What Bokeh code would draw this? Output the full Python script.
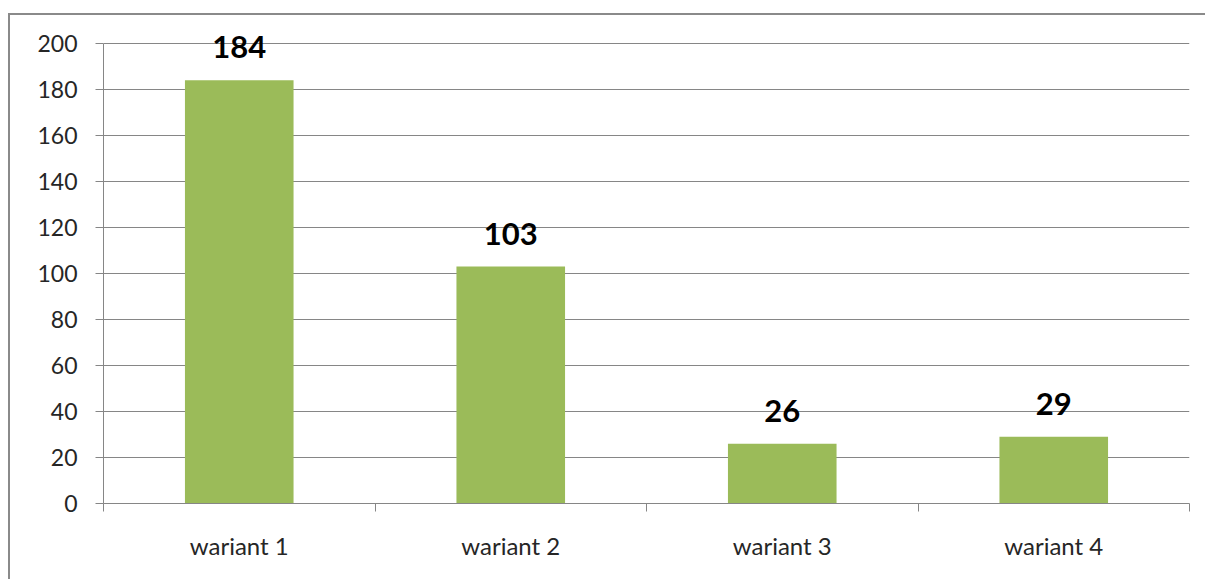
from bokeh.plotting import figure
from bokeh.models import ColumnDataSource, Range1d, FixedTicker, LabelSet
from bokeh.core.properties import value
from bokeh.embed import file_html
from bokeh.resources import INLINE

categories = ["wariant 1", "wariant 2", "wariant 3", "wariant 4"]
values = [184, 103, 26, 29]
y_ticks = [0, 20, 40, 60, 80, 100, 120, 140, 160, 180, 200]

xs = [i + 0.5 for i in range(len(categories))]
src = ColumnDataSource(dict(x=xs, top=values, label=[str(v) for v in values]))

GRID = "#868686"
FONT = "Lato"

# frame extends 28px above the 200 gridline so the top value label is not clipped
FRAME_H = 488
Y_MAX = 200 * FRAME_H / 460

p = figure(output_backend="svg", toolbar_location=None,
           x_range=Range1d(0, len(categories)), y_range=Range1d(0, Y_MAX),
           frame_width=1086, frame_height=FRAME_H,
           min_border_left=93, min_border_top=0, min_border_right=16, min_border_bottom=76,
           background_fill_color="white", border_fill_color="white")
p.styles = {"border-top": "2px solid #8a8a8a", "border-left": "2px solid #8a8a8a",
            "margin-top": "13px", "margin-left": "8px"}
p.outline_line_color = None

p.vbar(x="x", top="top", width=0.4, source=src, fill_color="#9BBB59",
       line_color=None)

labels = LabelSet(x="x", y="top", text="label", source=src,
                  text_align="center", text_baseline="alphabetic", y_offset=22,
                  text_font=value(FONT), text_font_style="bold", text_font_size="31px",
                  text_color="#000000", level="overlay")
p.add_layout(labels)

# y axis
p.yaxis.ticker = FixedTicker(ticks=y_ticks, minor_ticks=[])
p.yaxis.bounds = (0, 200)
p.yaxis.axis_line_color = GRID
p.yaxis.major_tick_line_color = GRID
p.yaxis.major_tick_out = 8
p.yaxis.major_tick_in = 0
p.yaxis.minor_tick_line_color = None
p.yaxis.major_label_standoff = 18
p.yaxis.major_label_text_font = FONT
p.yaxis.major_label_text_font_size = "23px"
p.yaxis.major_label_text_color = "#262626"

# x axis
p.xaxis.ticker = FixedTicker(ticks=xs, minor_ticks=list(range(len(categories) + 1)))
p.xaxis.major_label_overrides = {x: c for x, c in zip(xs, categories)}
p.xaxis.axis_line_color = GRID
p.xaxis.major_tick_line_color = None
p.xaxis.major_tick_out = 0
p.xaxis.major_tick_in = 0
p.xaxis.minor_tick_line_color = GRID
p.xaxis.minor_tick_out = 8
p.xaxis.minor_tick_in = 0
p.xaxis.major_label_standoff = 19
p.xaxis.major_label_text_font = FONT
p.xaxis.major_label_text_font_size = "24px"
p.xaxis.major_label_text_color = "#262626"

p.xgrid.grid_line_color = None
p.ygrid.grid_line_color = GRID
p.ygrid.grid_line_width = 1

open("out.html", "w").write(file_html(p, INLINE))
